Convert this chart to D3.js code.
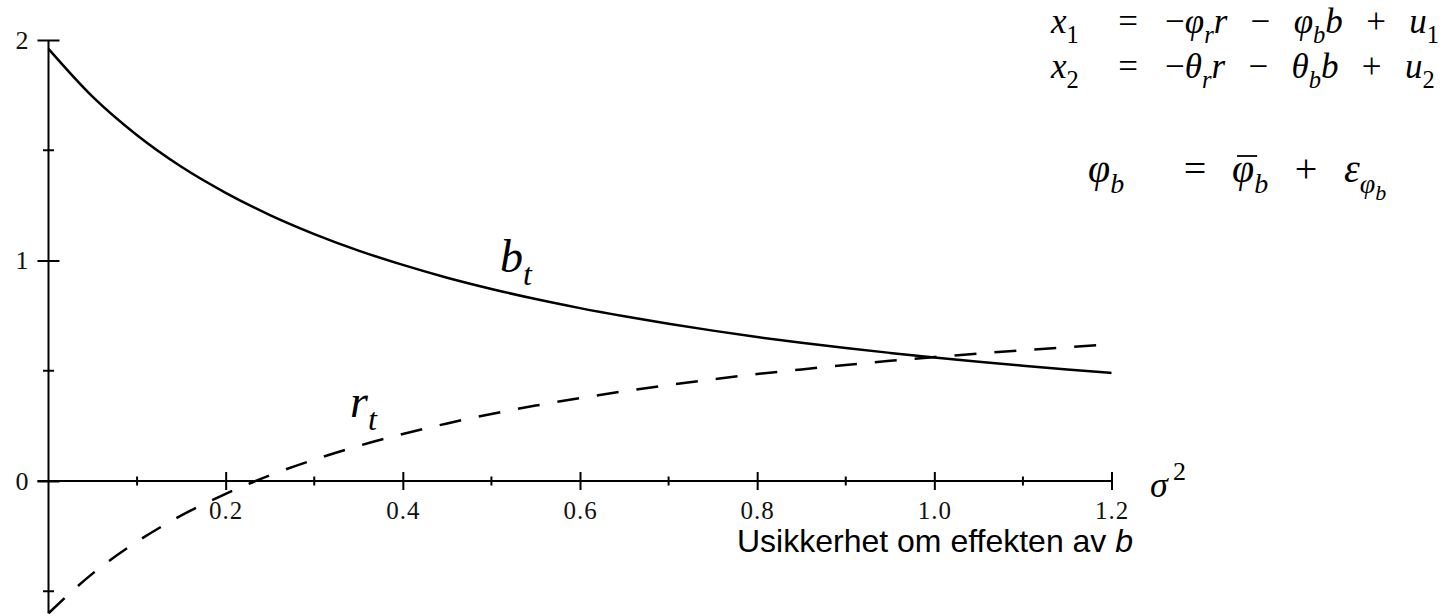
<!DOCTYPE html>
<html>
<head>
<meta charset="utf-8">
<script src="https://cdn.jsdelivr.net/npm/d3@7"></script>
<style>
  body { margin: 0; background: #fff; }
  .axis .domain { stroke: #000; stroke-width: 2; }
  .axis line { stroke: #000; stroke-width: 2; }
</style>
</head>
<body>
<svg width="1447" height="616"></svg>
<script>
// values (sigma^2 on x)
var sigma2 = [0, 0.05, 0.1, 0.15, 0.2, 0.25, 0.3, 0.35, 0.4, 0.45, 0.5, 0.55, 0.6,
              0.65, 0.7, 0.75, 0.8, 0.85, 0.9, 0.95, 1.0, 1.05, 1.1, 1.15, 1.2];
var bT = [1.96, 1.742, 1.568, 1.425, 1.307, 1.206, 1.12, 1.045, 0.98, 0.922, 0.871, 0.825, 0.784,
          0.747, 0.713, 0.682, 0.653, 0.627, 0.603, 0.581, 0.56, 0.541, 0.523, 0.506, 0.49];
var rT = [-0.6, -0.419, -0.275, -0.156, -0.058, 0.026, 0.097, 0.159, 0.213, 0.261, 0.304, 0.342, 0.376,
          0.407, 0.435, 0.461, 0.485, 0.506, 0.526, 0.545, 0.562, 0.578, 0.593, 0.607, 0.62];

var xMajor = [0.2, 0.4, 0.6, 0.8, 1.0, 1.2];
var xMinor = [0.1, 0.3, 0.5, 0.7, 0.9, 1.1];
var yMajor = [0, 1, 2];
var yMinor = [-0.5, 0.5, 1.5];

// equation rows: [text, italic, level]  level 0 normal, 1 subscript, 2 sub-sub
var sp = "\u2002\u2006";
var eq1 = [["x",1,0],["1",0,1]];
var eq1r = [["\u2212",0,0],["\u03c6",1,0],["r",1,1],["r",1,0],[sp+"\u2212"+sp,0,0],["\u03c6",1,0],["b",1,1],["b",1,0],[sp+"+"+sp,0,0],["u",1,0],["1",0,1]];
var eq2 = [["x",1,0],["2",0,1]];
var eq2r = [["\u2212",0,0],["\u03b8",1,0],["r",1,1],["r",1,0],[sp+"\u2212"+sp,0,0],["\u03b8",1,0],["b",1,1],["b",1,0],[sp+"+"+sp,0,0],["u",1,0],["2",0,1]];
var eq3 = [["\u03c6",1,0],["b",1,1]];
var eq3r = [["\u03c6",1,0],["b",1,1],[sp+"+"+sp,0,0],["\u03b5",1,0],["\u03c6",1,1],["b",1,2]];

var svg = d3.select("svg");

var x = d3.scaleLinear().domain([0, 1.2]).range([48.5, 1111.5]);
var y = d3.scaleLinear().domain([0, 2]).range([481, 40]);

// x axis
var gx = svg.append("g").attr("class", "axis").attr("transform", "translate(0," + y(0) + ")");
gx.call(d3.axisBottom(x).tickValues(xMajor).tickSize(9).tickSizeOuter(0).tickPadding(11)
  .tickFormat(d3.format(".1f")));
gx.select(".domain").attr("d", "M" + (x(0) - 11) + ",0H" + x(1.2));
gx.selectAll(".tick line").attr("y1", -9);
gx.selectAll(".tick text").style("font-family", "Liberation Serif").style("font-size", "25px")
  .attr("letter-spacing", 1).attr("fill", "#111");
gx.selectAll(".minor").data(xMinor).enter().append("line")
  .attr("x1", function(d) { return x(d); }).attr("x2", function(d) { return x(d); })
  .attr("y1", -4.5).attr("y2", 4.5);

// y axis
var gy = svg.append("g").attr("class", "axis").attr("transform", "translate(" + x(0) + ",0)");
gy.call(d3.axisLeft(y).tickValues(yMajor).tickSize(11).tickSizeOuter(0).tickPadding(9)
  .tickFormat(d3.format("d")));
gy.select(".domain").attr("d", "M0," + y(2) + "V" + y(-0.6));
gy.selectAll(".tick line").attr("x1", 11);
gy.selectAll(".tick text").style("font-family", "Liberation Serif").style("font-size", "26px")
  .attr("fill", "#111");
gy.selectAll(".minor").data(yMinor).enter().append("line")
  .attr("y1", function(d) { return y(d); }).attr("y2", function(d) { return y(d); })
  .attr("x1", -5.5).attr("x2", 5.5);

// curves
var line = d3.line().curve(d3.curveMonotoneX)
  .x(function(d) { return x(d[0]); }).y(function(d) { return y(d[1]); });

svg.append("path").datum(d3.zip(sigma2, bT)).attr("d", line)
  .attr("fill", "none").attr("stroke", "#000").attr("stroke-width", 2.5);
svg.append("path").datum(d3.zip(sigma2, rT)).attr("d", line)
  .attr("fill", "none").attr("stroke", "#000").attr("stroke-width", 2.5)
  .attr("stroke-dasharray", "22,18");

// math text helper
function math(x0, y0, size, segs) {
  var t = svg.append("text").attr("x", x0).attr("y", y0)
    .attr("font-family", "Liberation Serif").attr("font-size", size)
    .style("white-space", "pre");
  var shift = 0;
  segs.forEach(function(s) {
    var want = s[2] == 0 ? 0 : (s[2] == 1 ? size * 0.28 : size * 0.45);
    t.append("tspan").attr("dy", want - shift)
      .attr("font-style", s[1] ? "italic" : "normal")
      .attr("font-size", s[2] == 0 ? size : (s[2] == 1 ? size * 0.7 : size * 0.55))
      .text(s[0]);
    shift = want;
  });
  return t;
}

function eqSign(x0, y0, size) {
  svg.append("text").attr("x", x0).attr("y", y0).attr("text-anchor", "middle")
    .attr("font-family", "Liberation Serif").attr("font-size", size).text("=");
}

math(500, 272, 46, [["b",1,0],["t",1,1]]);
math(350, 417, 46, [["r",1,0],["t",1,1]]);
math(1150, 497, 36, [["\u03c3",1,0]]);
svg.append("text").attr("x", 1173).attr("y", 480).attr("font-family", "Liberation Serif")
  .attr("font-size", 26).text("2");

// caption
var cap = svg.append("text").attr("x", 737).attr("y", 552)
  .attr("font-family", "Liberation Sans").attr("font-size", 32).attr("fill", "#000");
cap.append("tspan").text("Usikkerhet om effekten av ");
cap.append("tspan").attr("font-style", "italic").text("b");

// equations
var r1 = 33, r2 = 78, r3 = 182;
math(1051, r1, 35, eq1);
eqSign(1128, r1, 35);
math(1165, r1, 35, eq1r);
math(1051, r2, 35, eq2);
eqSign(1128, r2, 35);
math(1165, r2, 35, eq2r);
math(1088, r3, 40, eq3);
eqSign(1195, r3, 40);
var t3 = math(1232, r3, 40, eq3r);
// bar over the first phi on the right side
var p0 = t3.node().getStartPositionOfChar(0), p1 = t3.node().getEndPositionOfChar(0);
svg.append("line").attr("x1", p0.x + 5).attr("x2", p1.x + 3)
  .attr("y1", r3 - 26).attr("y2", r3 - 26).attr("stroke", "#000").attr("stroke-width", 1.8);
</script>
</body>
</html>
